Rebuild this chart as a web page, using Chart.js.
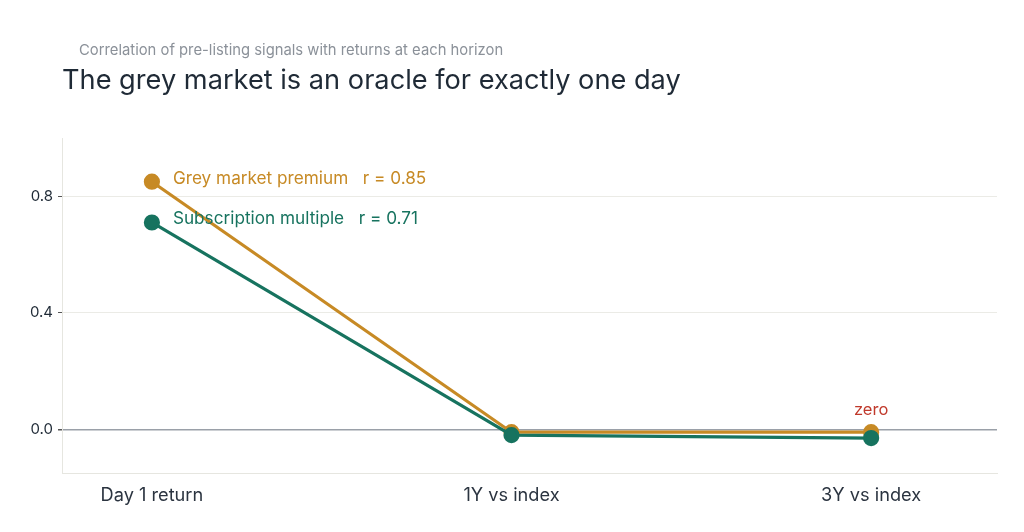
<!DOCTYPE html>
<html>
<head>
<meta charset="utf-8">
<script src="https://cdn.jsdelivr.net/npm/chart.js@4"></script>
<style>
  html, body { margin: 0; padding: 0; background: #fff; }
  #wrap { position: relative; width: 1024px; height: 532px; font-family: Inter, "Noto Sans", sans-serif; }
  #sub { position: absolute; left: 79px; top: 41px; font-size: 14.8px; color: #8b9199; }
  #title { position: absolute; left: 62px; top: 63px; font-size: 27.2px; color: #1f2a36; }
  canvas { position: absolute; left: 0; top: 0; }
</style>
</head>
<body>
<div id="wrap">
  <canvas id="chart" width="1024" height="532"></canvas>
  <div id="sub">Correlation of pre-listing signals with returns at each horizon</div>
  <div id="title">The grey market is an oracle for exactly one day</div>
</div>
<script>
// categories along the horizon axis
const horizons = ['Day 1 return', '1Y vs index', '3Y vs index'];
// correlation values
const greyMarket = [0.85, -0.01, -0.01];
const subscription = [0.71, -0.02, -0.03];
const yTicks = [0, 0.4, 0.8];

const GOLD = '#c78a25';
const TEAL = '#17735f';

// labels written next to the first point and above zero at the last horizon
const labelPlugin = {
    id: 'labels',
    afterDatasetsDraw(chart) {
        const ctx = chart.ctx;
        const x = chart.scales.x;
        const y = chart.scales.y;
        ctx.save();
        ctx.font = '17.2px Inter, "Noto Sans", sans-serif';
        ctx.textBaseline = 'middle';
        ctx.textAlign = 'left';
        ctx.fillStyle = GOLD;
        ctx.fillText('Grey market premium   r = ' + greyMarket[0].toFixed(2), x.getPixelForValue(0) + 21, y.getPixelForValue(greyMarket[0]) - 3);
        ctx.fillStyle = TEAL;
        ctx.fillText('Subscription multiple   r = ' + subscription[0].toFixed(2), x.getPixelForValue(0) + 21, y.getPixelForValue(subscription[0]) - 4);
        ctx.textAlign = 'center';
        ctx.font = '16.5px Inter, "Noto Sans", sans-serif';
        ctx.fillStyle = '#c0392b';
        ctx.fillText('zero', x.getPixelForValue(2), y.getPixelForValue(0) - 19);
        ctx.restore();
    }
};

const ctx = document.getElementById('chart').getContext('2d');
new Chart(ctx, {
    type: 'line',
    data: {
        datasets: [
            {
                label: 'Subscription multiple',
                data: subscription.map((v, i) => ({ x: i, y: v })),
                borderColor: TEAL,
                backgroundColor: TEAL,
                borderWidth: 3.2,
                pointRadius: 6.5,
                pointHoverRadius: 6.5
            },
            {
                label: 'Grey market premium',
                data: greyMarket.map((v, i) => ({ x: i, y: v })),
                borderColor: GOLD,
                backgroundColor: GOLD,
                borderWidth: 3.2,
                pointRadius: 6.5,
                pointHoverRadius: 6.5
            }
        ]
    },
    options: {
        responsive: false,
        animation: false,
        layout: { padding: { top: 138, right: 27, left: 0, bottom: 0 } },
        plugins: {
            legend: { display: false },
            tooltip: { enabled: false }
        },
        scales: {
            x: {
                type: 'linear',
                min: -0.25,
                max: 2.35,
                afterFit: s => { s.height = 59; },
                afterBuildTicks: s => { s.ticks = horizons.map((_, i) => ({ value: i })); },
                ticks: {
                    callback: v => horizons[v],
                    color: '#2b3440',
                    font: { family: 'Inter', size: 18.2 },
                    padding: 12
                },
                grid: { drawOnChartArea: false, drawTicks: false },
                border: { color: '#e6e6e0', width: 1 }
            },
            y: {
                min: -0.15,
                max: 1.0,
                afterFit: s => { s.width = 62; },
                afterBuildTicks: s => { s.ticks = yTicks.map(v => ({ value: v })); },
                ticks: {
                    callback: v => v.toFixed(1),
                    color: '#1f2a36',
                    font: { family: 'Inter', size: 15 },
                    padding: 5
                },
                grid: {
                    color: c => c.tick && c.tick.value === 0 ? '#9aa0a8' : '#ebebe6',
                    lineWidth: c => c.tick && c.tick.value === 0 ? 1.5 : 1,
                    tickColor: '#555',
                    tickLength: 4
                },
                border: { color: '#e6e6e0', width: 1 }
            }
        }
    },
    plugins: [labelPlugin]
});
</script>
</body>
</html>
